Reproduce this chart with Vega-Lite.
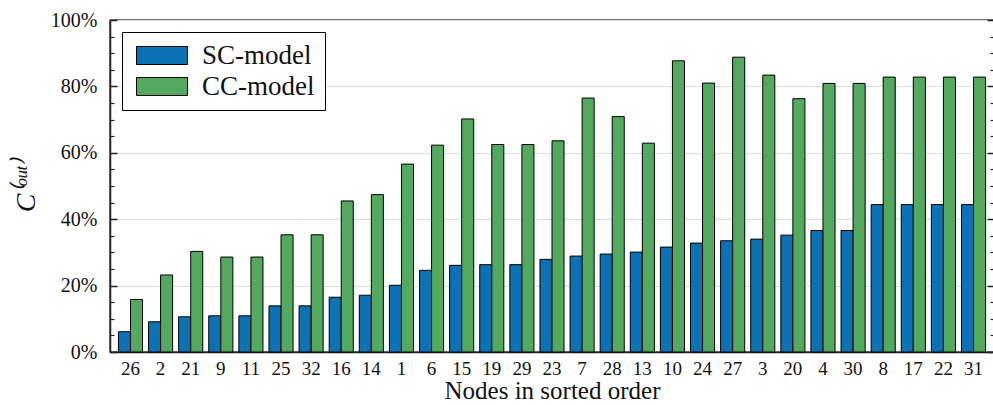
{
  "$schema": "https://vega.github.io/schema/vega-lite/v6.json",
  "width": 884,
  "height": 332,
  "autosize": {"type": "none"},
  "padding": {"left": 110, "top": 20, "right": 0, "bottom": 53},
  "background": "white",
  "config": {
    "font": "Liberation Serif",
    "view": {"stroke": "#444", "strokeWidth": 1.5},
    "axis": {"labelFont": "Liberation Serif", "titleFont": "Liberation Serif", "labelColor": "#111", "titleColor": "#111", "titleFontWeight": "normal"}
  },
  "data": {"values": [
    {"node": "26", "model": "SC-model", "value": 0.061}, {"node": "26", "model": "CC-model", "value": 0.158},
    {"node": "2", "model": "SC-model", "value": 0.091}, {"node": "2", "model": "CC-model", "value": 0.232},
    {"node": "21", "model": "SC-model", "value": 0.106}, {"node": "21", "model": "CC-model", "value": 0.303},
    {"node": "9", "model": "SC-model", "value": 0.109}, {"node": "9", "model": "CC-model", "value": 0.286},
    {"node": "11", "model": "SC-model", "value": 0.109}, {"node": "11", "model": "CC-model", "value": 0.286},
    {"node": "25", "model": "SC-model", "value": 0.139}, {"node": "25", "model": "CC-model", "value": 0.353},
    {"node": "32", "model": "SC-model", "value": 0.139}, {"node": "32", "model": "CC-model", "value": 0.353},
    {"node": "16", "model": "SC-model", "value": 0.165}, {"node": "16", "model": "CC-model", "value": 0.455},
    {"node": "14", "model": "SC-model", "value": 0.171}, {"node": "14", "model": "CC-model", "value": 0.474},
    {"node": "1", "model": "SC-model", "value": 0.201}, {"node": "1", "model": "CC-model", "value": 0.566},
    {"node": "6", "model": "SC-model", "value": 0.246}, {"node": "6", "model": "CC-model", "value": 0.623},
    {"node": "15", "model": "SC-model", "value": 0.261}, {"node": "15", "model": "CC-model", "value": 0.702},
    {"node": "19", "model": "SC-model", "value": 0.263}, {"node": "19", "model": "CC-model", "value": 0.625},
    {"node": "29", "model": "SC-model", "value": 0.263}, {"node": "29", "model": "CC-model", "value": 0.625},
    {"node": "23", "model": "SC-model", "value": 0.279}, {"node": "23", "model": "CC-model", "value": 0.636},
    {"node": "7", "model": "SC-model", "value": 0.289}, {"node": "7", "model": "CC-model", "value": 0.765},
    {"node": "28", "model": "SC-model", "value": 0.295}, {"node": "28", "model": "CC-model", "value": 0.709},
    {"node": "13", "model": "SC-model", "value": 0.301}, {"node": "13", "model": "CC-model", "value": 0.629},
    {"node": "10", "model": "SC-model", "value": 0.316}, {"node": "10", "model": "CC-model", "value": 0.877},
    {"node": "24", "model": "SC-model", "value": 0.328}, {"node": "24", "model": "CC-model", "value": 0.810},
    {"node": "27", "model": "SC-model", "value": 0.335}, {"node": "27", "model": "CC-model", "value": 0.888},
    {"node": "3", "model": "SC-model", "value": 0.340}, {"node": "3", "model": "CC-model", "value": 0.834},
    {"node": "20", "model": "SC-model", "value": 0.352}, {"node": "20", "model": "CC-model", "value": 0.763},
    {"node": "4", "model": "SC-model", "value": 0.366}, {"node": "4", "model": "CC-model", "value": 0.809},
    {"node": "30", "model": "SC-model", "value": 0.366}, {"node": "30", "model": "CC-model", "value": 0.809},
    {"node": "8", "model": "SC-model", "value": 0.444}, {"node": "8", "model": "CC-model", "value": 0.828},
    {"node": "17", "model": "SC-model", "value": 0.444}, {"node": "17", "model": "CC-model", "value": 0.828},
    {"node": "22", "model": "SC-model", "value": 0.444}, {"node": "22", "model": "CC-model", "value": 0.828},
    {"node": "31", "model": "SC-model", "value": 0.444}, {"node": "31", "model": "CC-model", "value": 0.828}
  ]},
  "layer": [
    {
      "mark": {"type": "bar", "stroke": "black", "strokeWidth": 1, "fillOpacity": 1},
      "encoding": {
        "x": {"field": "node", "type": "nominal", "sort": null,
          "scale": {"paddingInner": 0.2, "paddingOuter": 0.28},
          "axis": {"title": "Nodes in sorted order", "titleFontSize": 25, "titlePadding": 0, "labelFontSize": 19, "labelAngle": 0, "ticks": false, "labelPadding": 7, "domainColor": "#222", "domainWidth": 1.5}},
        "xOffset": {"field": "model", "type": "nominal", "sort": ["SC-model", "CC-model"]},
        "y": {"field": "value", "type": "quantitative", "scale": {"domain": [0, 1], "nice": false},
          "axis": {"orient": "left", "values": [0, 0.2, 0.4, 0.6, 0.8, 1], "format": ".0%", "labelFontSize": 20, "tickSize": -7, "tickColor": "#222", "tickWidth": 1.5, "labelPadding": 20, "grid": true, "gridColor": "#dcdcdc", "gridWidth": 1, "domainColor": "#222", "domainWidth": 1.5,
            "title": "C⁽ᵒᵘᵗ⁾", "titleFontSize": 28, "titleFontStyle": "italic", "titlePadding": 10}},
        "fill": {"field": "model", "type": "nominal", "sort": ["SC-model", "CC-model"],
          "scale": {"domain": ["SC-model", "CC-model"], "range": ["#0b72b5", "#53aa5f"]},
          "legend": {"title": null, "orient": "top-left", "offset": 12, "padding": 10, "strokeColor": "black", "fillColor": "white",
            "symbolType": "M-1,-1H4.67V1H-1Z", "symbolSize": 324, "symbolStrokeColor": "black", "symbolStrokeWidth": 1, "symbolOpacity": 1,
            "labelFont": "Liberation Serif", "labelFontSize": 27, "labelOffset": 43, "labelColor": "#111", "rowPadding": 3}}
      }
    },
    {
      "mark": {"type": "point", "opacity": 0},
      "encoding": {
        "y": {"field": "value", "type": "quantitative",
          "axis": {"orient": "left", "values": [0.05, 0.1, 0.15, 0.25, 0.3, 0.35, 0.45, 0.5, 0.55, 0.65, 0.7, 0.75, 0.85, 0.9, 0.95], "labels": false, "grid": false, "domain": false, "tickSize": -4, "tickColor": "#222", "tickWidth": 1.2, "title": null}}
      }
    },
    {
      "mark": {"type": "point", "opacity": 0},
      "encoding": {
        "y": {"field": "value", "type": "quantitative",
          "axis": {"orient": "right", "values": [0, 0.2, 0.4, 0.6, 0.8, 1], "labels": false, "grid": false, "domain": false, "tickSize": -7, "tickColor": "#222", "tickWidth": 1.5, "title": null}}
      }
    },
    {
      "mark": {"type": "point", "opacity": 0},
      "encoding": {
        "y": {"field": "value", "type": "quantitative",
          "axis": {"orient": "right", "values": [0.05, 0.1, 0.15, 0.25, 0.3, 0.35, 0.45, 0.5, 0.55, 0.65, 0.7, 0.75, 0.85, 0.9, 0.95], "labels": false, "grid": false, "domain": false, "tickSize": -4, "tickColor": "#222", "tickWidth": 1.2, "title": null}}
      }
    }
  ],
  "resolve": {"axis": {"y": "independent"}}
}
